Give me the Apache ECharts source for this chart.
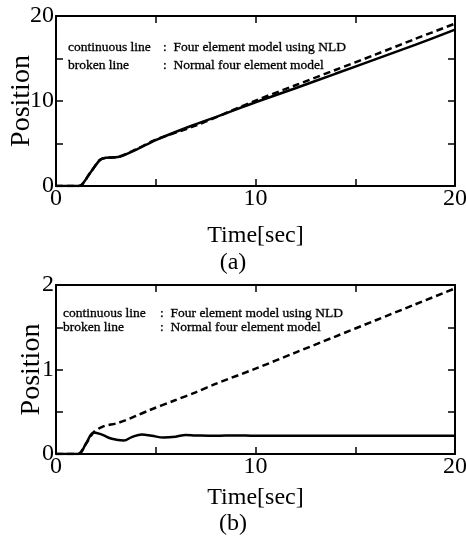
<!DOCTYPE html>
<html>
<head>
<meta charset="utf-8">
<script src="https://cdn.jsdelivr.net/npm/echarts@6/dist/echarts.min.js"></script>
<style>html,body{margin:0;padding:0;background:#fff}#c{width:466px;height:536px}</style>
</head>
<body>
<div id="c"></div>
<script>
// ---- data (a) ----
var timeSolidA = [0, 1.15, 1.7, 2.2, 2.5, 3.1, 4.0, 5.0, 6.7, 8.35, 10, 12, 14, 16, 18, 20];
var solidA     = [0, 0,    1.5, 3.06, 3.33, 3.4, 4.25, 5.4, 7.0, 8.4, 9.85, 11.5, 13.2, 14.9, 16.6, 18.4];
var timeDashA  = [0, 1.15, 1.7, 2.2, 2.5, 3.1, 4.0, 5.0, 7, 10, 12, 14, 16, 18, 20];
var dashA      = [0, 0,    1.5, 3.06, 3.33, 3.42, 4.3, 5.45, 7.1, 10.05, 11.85, 13.65, 15.45, 17.3, 19.1];
// ---- data (b) ----
var timeSolidB = [0, 1.1, 1.5, 1.9, 2.3, 2.8, 3.4, 3.8, 4.3, 4.8, 5.4, 6.0, 6.5, 7.0, 8, 9, 10, 20];
var solidB     = [0, 0,   0.12, 0.255, 0.23, 0.18, 0.16, 0.2, 0.23, 0.215, 0.195, 0.205, 0.225, 0.22, 0.215, 0.22, 0.215, 0.215];
var timeDashB  = [0, 1.1, 1.5, 1.9, 2.4, 3.0, 3.5, 4.0, 4.7, 5.9, 7, 8, 10, 12, 14, 16, 18, 20];
var dashB      = [0, 0,   0.12, 0.26, 0.33, 0.36, 0.40, 0.45, 0.52, 0.63, 0.73, 0.83, 1.01, 1.2, 1.39, 1.58, 1.77, 1.96];
// ---- text ----
var xTicks = [0, 10, 20];
var yTicksA = [0, 10, 20];
var yTicksB = [0, 1, 2];
var seriesNames = ['continuous line', 'broken line'];
var seriesDesc = ['Four element model using NLD', 'Normal four element model'];
var xTitle = 'Time[sec]';
var yTitle = 'Position';
var panelLabels = ['(a)', '(b)'];

function pairs(t, v) { return t.map(function (x, i) { return [x, v[i]]; }); }

var FF = '"Liberation Serif", "Times New Roman", serif';
var axisLine = { show: true, onZero: false, lineStyle: { color: '#000', width: 2 } };
var tick = { show: true, inside: true, length: 7, lineStyle: { color: '#000', width: 1.5 } };

function xAxisPair(grid, nameGap) {
  return [
    { type: 'value', gridIndex: grid, min: 0, max: 20, interval: 5, position: 'bottom',
      axisLine: axisLine, axisTick: tick, splitLine: { show: false },
      axisLabel: { margin: 1, color: '#000', fontFamily: FF, fontSize: 24,
        formatter: function (v) { return xTicks.indexOf(v) >= 0 ? String(v) : ''; } },
      name: xTitle, nameLocation: 'middle', nameGap: nameGap, nameMoveOverlap: false,
      nameTextStyle: { color: '#000', fontFamily: FF, fontSize: 24 } },
    { type: 'value', gridIndex: grid, min: 0, max: 20, interval: 5, position: 'top',
      axisLine: axisLine, axisTick: tick, splitLine: { show: false }, axisLabel: { show: false } }
  ];
}
function yAxisPair(grid, max, interval, ticks, nameGap) {
  return [
    { type: 'value', gridIndex: grid, min: 0, max: max, interval: interval, position: 'left',
      axisLine: axisLine, axisTick: tick, splitLine: { show: false },
      axisLabel: { margin: 2, color: '#000', fontFamily: FF, fontSize: 24,
        formatter: function (v) { return ticks.indexOf(Math.round(v * 1000) / 1000) >= 0 ? String(v) : ''; } },
      name: yTitle, nameLocation: 'middle', nameGap: nameGap, nameMoveOverlap: false,
      nameTextStyle: { color: '#000', fontFamily: FF, fontSize: 28 } },
    { type: 'value', gridIndex: grid, min: 0, max: max, interval: interval, position: 'right',
      axisLine: axisLine, axisTick: tick, splitLine: { show: false }, axisLabel: { show: false } }
  ];
}
function legendFor(left, top, gap, colonW) {
  return {
    left: left, top: top, orient: 'vertical', padding: 0, itemGap: gap,
    itemWidth: 0, itemHeight: 14, icon: 'rect', selectedMode: false,
    data: seriesNames,
    formatter: function (name) {
      return '{a|' + name + '}{b|:  ' + seriesDesc[seriesNames.indexOf(name)] + '}';
    },
    textStyle: { color: '#000', fontFamily: FF, fontSize: 13.5,
      rich: {
        a: { width: colonW, color: '#000', fontFamily: FF, fontSize: 13.5, textBorderColor: '#000', textBorderWidth: 0.3 },
        b: { color: '#000', fontFamily: FF, fontSize: 13.5, textBorderColor: '#000', textBorderWidth: 0.3 }
      } }
  };
}
var solidStyle = { color: '#000', width: 2.5, type: 'solid' };
var dashStyle = { color: '#000', width: 2.5, type: [7, 4] };

var option = {
  backgroundColor: '#fff',
  animation: false,
  grid: [
    { left: 56, top: 16, width: 399, height: 170, containLabel: false, outerBoundsMode: 'none' },
    { left: 56, top: 285, width: 399, height: 169, containLabel: false, outerBoundsMode: 'none' }
  ],
  xAxis: xAxisPair(0, 38).concat(xAxisPair(1, 32)),
  yAxis: yAxisPair(0, 20, 5, yTicksA, 20).concat(yAxisPair(1, 2, 0.5, yTicksB, 10)),
  legend: [legendFor(63, 40, 4, 95), legendFor(58, 306, 0, 97)],
  graphic: [
    { type: 'text', left: 'center', top: 251, style: { text: panelLabels[0], fill: '#000', font: '24px ' + FF } },
    { type: 'text', left: 'center', top: 512, style: { text: panelLabels[1], fill: '#000', font: '24px ' + FF } }
  ],
  series: [
    { name: seriesNames[0], type: 'line', xAxisIndex: 0, yAxisIndex: 0, showSymbol: false, smooth: 0.3,
      lineStyle: solidStyle, itemStyle: { color: '#000' }, data: pairs(timeSolidA, solidA) },
    { name: seriesNames[1], type: 'line', xAxisIndex: 0, yAxisIndex: 0, showSymbol: false, smooth: 0.3,
      lineStyle: dashStyle, itemStyle: { color: '#000' }, data: pairs(timeDashA, dashA) },
    { name: seriesNames[0], type: 'line', xAxisIndex: 2, yAxisIndex: 2, showSymbol: false, smooth: 0.4,
      lineStyle: solidStyle, itemStyle: { color: '#000' }, data: pairs(timeSolidB, solidB) },
    { name: seriesNames[1], type: 'line', xAxisIndex: 2, yAxisIndex: 2, showSymbol: false, smooth: 0.3,
      lineStyle: dashStyle, itemStyle: { color: '#000' }, data: pairs(timeDashB, dashB) }
  ]
};
var chart = echarts.init(document.getElementById('c'), null, { renderer: 'canvas' });
chart.setOption(option);
</script>
</body>
</html>
